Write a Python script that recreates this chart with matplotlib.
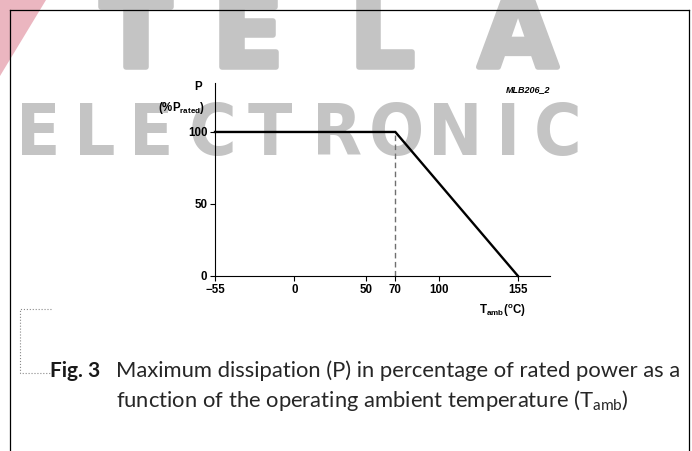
import matplotlib
matplotlib.use('Agg')
import matplotlib.pyplot as plt
import matplotlib.patheffects as pe
from matplotlib import font_manager as fm
from matplotlib.patches import Polygon
from matplotlib.lines import Line2D

# derating curve
temp = [-55, 70, 155]
power = [100, 100, 0]
knee_t = 70
knee_p = 100
xticks = [-55, 0, 50, 70, 100, 155]
xlabels = ['\u221255', '0', '50', '70', '100', '155']
yticks = [0, 50, 100]
ylabels = ['0', '50', '100']

plt.rcParams['mathtext.default'] = 'regular'

W, H = 692, 451
fig = plt.figure(figsize=(W / 100, H / 100), dpi=100)


def fx(x):
    return x / W


def fy(y):
    return 1 - y / H


# a condensed bold face for the second watermark line, if one is installed
cond = None
for want in ['DejaVuSansCondensed-Bold', 'NotoSans-CondensedBold', 'LiberationSansNarrow-Bold']:
    for f in fm.fontManager.ttflist:
        if want in f.fname:
            cond = fm.FontProperties(fname=f.fname)
            break
    if cond is not None:
        break
if cond is None:
    cond = fm.FontProperties(family='Liberation Sans', weight='bold')

# watermark (behind everything)
fig.add_artist(Polygon([(fx(0), fy(0)), (fx(46), fy(0)), (fx(0), fy(76))],
                       closed=True, transform=fig.transFigure,
                       color='#ebb6c0', lw=0, zorder=-5))
gray = '#c4c4c4'
for ch, cx in zip('TELA', [136, 248, 382, 518]):
    fig.text(fx(cx), fy(67), ch, ha='center', va='baseline', fontsize=74,
             fontweight='bold', family='DejaVu Sans', color=gray, zorder=-5,
             path_effects=[pe.withStroke(linewidth=4, foreground=gray)])
for ch, cx in zip('ELECTRONIC', [38, 95, 151, 213, 270, 337, 396, 455, 508, 558]):
    t = fig.text(fx(cx), fy(155), ch, ha='center', va='baseline',
                 fontproperties=cond, color=gray, zorder=-5)
    t.set_fontsize(52)

# frame
for xs, ys in [([10, 689], [10, 10]), ([10, 10], [10, 451]), ([689, 689], [10, 451])]:
    fig.add_artist(Line2D([fx(v) for v in xs], [fy(v) for v in ys],
                          color='black', lw=0.9, transform=fig.transFigure))

# chart
ax = fig.add_axes([fx(215), fy(276), (550 - 215) / W, (276 - 83) / H])
ax.patch.set_alpha(0)
ax.plot([knee_t, knee_t], [0, knee_p], color='#6f6f6f', lw=1.0, dashes=(4, 2.5))
ax.plot(temp, power, color='black', lw=1.7, solid_joinstyle='miter', clip_on=False)
ax.set_xlim(-55, 177.2)
ax.set_ylim(0, 134)
for s in ['top', 'right']:
    ax.spines[s].set_visible(False)
for s in ['left', 'bottom']:
    ax.spines[s].set_linewidth(0.8)
ax.set_xticks(xticks)
ax.set_xticklabels(xlabels)
ax.set_yticks(yticks)
ax.set_yticklabels(ylabels)
ax.tick_params(direction='out', length=3.5, width=0.8, pad=2, labelsize=8.3)
for lab in ax.get_xticklabels() + ax.get_yticklabels():
    lab.set_fontweight('bold')
    lab.set_family('Liberation Sans')

lbl = dict(fontsize=8.3, fontweight='bold', family='Liberation Sans')
fig.text(fx(202), fy(87), 'P', ha='right', va='center', **lbl)
fig.text(fx(205), fy(108), r'(%P$_{rated}$)', ha='right', va='center', **lbl)
fig.text(fx(502), fy(311), r'T$_{amb}$($^{o}$C)', ha='center', va='center', **lbl)
fig.text(fx(528), fy(90), 'MLB206_2', ha='center', va='center', fontsize=6.5,
         fontweight='bold', style='italic', family='Liberation Sans')

# caption
fig.add_artist(Line2D([fx(51), fx(20), fx(20), fx(50)], [fy(309), fy(309), fy(373), fy(373)],
                      color='#8a8a8a', lw=0.8, ls=':', transform=fig.transFigure))
fig.text(fx(50), fy(377), 'Fig. 3', ha='left', va='baseline', fontsize=15,
         fontweight='bold', family='Lato', color='#1a1a1a')
cap = dict(ha='left', va='baseline', fontsize=15, family='Lato', color='#262626')
t1 = fig.text(fx(116), fy(377), 'Maximum dissipation (P) in percentage of rated power as a', **cap)
t2 = fig.text(fx(116), fy(407), r'function of the operating ambient temperature (T$_{amb}$)', **cap)

# fit the first caption line to the width it has in the reference
fig.canvas.draw()
w = t1.get_window_extent().width
fs = 15 * (682 - 116) / w
t1.set_fontsize(fs)
t2.set_fontsize(fs)

fig.savefig('out.png', dpi=100)
